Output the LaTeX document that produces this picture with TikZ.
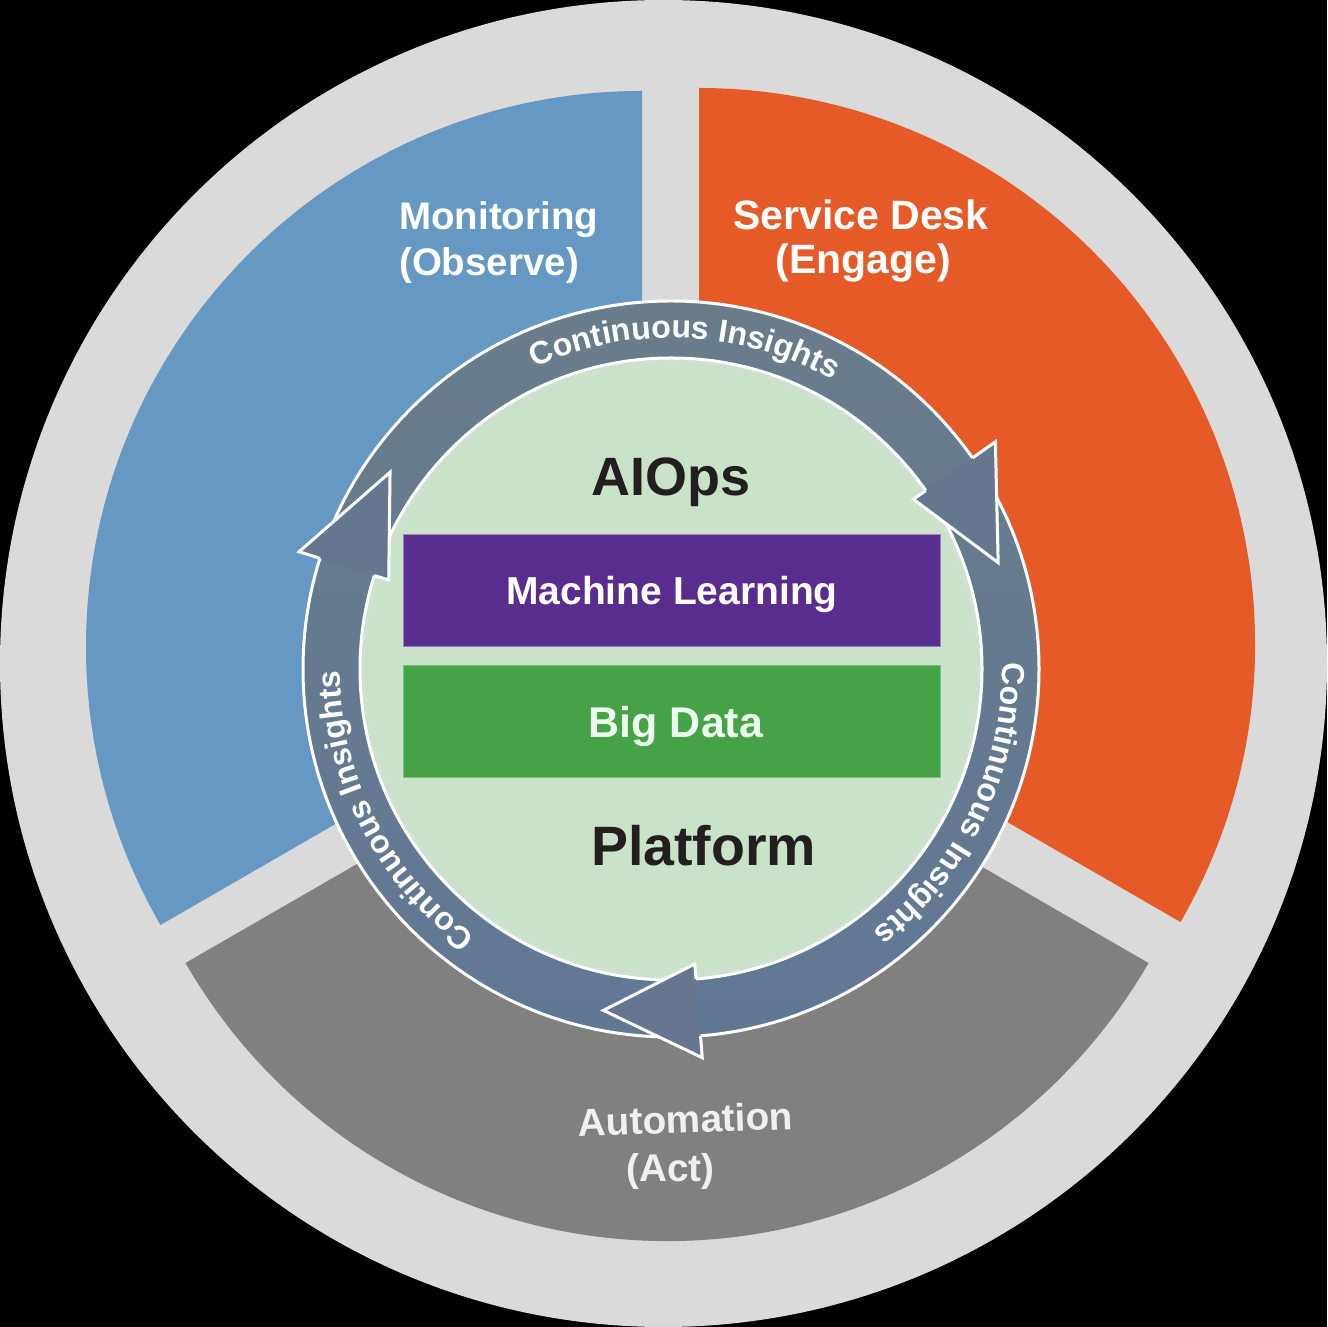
\documentclass[tikz,border=0pt]{standalone}
\usepackage{fontspec}
\setmainfont{Liberation Sans}
\usetikzlibrary{decorations.text}

\definecolor{rim}{HTML}{DADADA}
\definecolor{observe}{HTML}{6598C3}
\definecolor{engage}{HTML}{E55A26}
\definecolor{act}{HTML}{808080}
\definecolor{mint}{HTML}{C9E2C9}
\definecolor{ringtop}{HTML}{6A7C8A}
\definecolor{ringbot}{HTML}{617895}
\definecolor{headfill}{HTML}{66768F}
\definecolor{mlpurple}{HTML}{592D8D}
\definecolor{bdgreen}{HTML}{45A247}
\definecolor{ink}{HTML}{231F20}
\definecolor{softline}{HTML}{D6DCD6}

\newcommand\setpx[1]{\fontsize{#1}{#1}\selectfont}

\tikzset{
  label/.style={inner sep=0pt, text=white, font=\bfseries\setpx{#1}},
  layer/.style={inner sep=0pt, minimum width=537, minimum height=112, line width=1},
  ringtext/.style={decorate, decoration={text along path, text align=center,
      text color=white, text={|\bfseries\setpx{32}|Continuous Insights}}},
}

\begin{document}
\begin{tikzpicture}[x=1pt,y=1pt]
\useasboundingbox (0,0) rectangle (1327,1327);
\fill[black] (0,0) rectangle (1327,1327);
\fill[rim] (663.5,663.5) circle[radius=663.5];

% exploded pie: three sectors, each from its own centre
\fill[observe] (642,680) -- ++(90:556) arc[start angle=90,end angle=210,radius=556] -- cycle;
\fill[engage] (699,683) -- ++(-30:556) arc[start angle=-30,end angle=90,radius=556] -- cycle;
\fill[act] (667,642) -- ++(210:556) arc[start angle=210,end angle=330,radius=556] -- cycle;

% sector labels
\node[label=38.5, anchor=base west] (mon) at (399,1097) {Monitoring};
\node[label=38.5, anchor=base west] (obs) at (399,1051) {(Observe)};
\node[label=41, anchor=base] (sd) at (861,1097) {Service Desk};
\node[label=41, anchor=base] (eng) at (863.5,1053) {(Engage)};
\node[label=38.7, anchor=base, text=white!94!black, rotate=2] (auto) at (686,194) {Automation};
\node[label=38.7, anchor=base, text=white!94!black] (actl) at (670.5,145) {(Act)};

% central platform disc and insights ring
\coordinate (C) at (671,658);
\fill[mint] (C) circle[radius=311];
\shade[top color=ringtop, bottom color=ringbot, even odd rule]
  (C) circle[radius=368] (C) circle[radius=311];
\draw[white, line width=3] (C) circle[radius=368];
\draw[softline, line width=2] (C) circle[radius=307.5];
\draw[white, line width=3] (C) circle[radius=311];

% arrowheads: back angle / outer radius / tip angle / tip radius
\foreach \b/\o/\t/\tr in {35/396/18/344, -85.4/390/-101.2/348, 162.5/390/145/343} {
  \fill[headfill] ([shift={(C)}]\b:\o) -- ([shift={(C)}]\t:\tr) -- ([shift={(C)}]\b:296) -- cycle;
  \draw[white, line width=3, line join=miter]
    ([shift={(C)}]\b:368) -- ([shift={(C)}]\b:\o) -- ([shift={(C)}]\t:\tr)
    -- ([shift={(C)}]\b:296) -- ([shift={(C)}]\b:311);
}

% ring captions, clockwise
\path[ringtext] ([shift={(C)}]147.5:331) arc[start angle=147.5,end angle=27.5,radius=331];
\path[ringtext] ([shift={(C)}]34.4:331) arc[start angle=34.4,end angle=-85.6,radius=331];
\path[ringtext] ([shift={(C)}]267:331) arc[start angle=267,end angle=147,radius=331];

% platform stack
\node[inner sep=0pt, anchor=base west, text=ink, font=\bfseries\setpx{54}] (aiops) at (591,831) {AIOps};
\node[layer, fill=mlpurple, draw=mlpurple!60!white] (ml) at (671.5,736) {};
\node[label=39] (mltext) at (672,732) {Machine Learning};
\node[layer, fill=bdgreen, draw=bdgreen!70!white] (bd) at (671.5,605) {};
\node[label=43, text=white!93!green] (bdtext) at (676,601) {Big Data};
\node[inner sep=0pt, anchor=base west, text=ink, font=\bfseries\setpx{55.5}] (plat) at (591,461) {Platform};
\end{tikzpicture}
\end{document}
